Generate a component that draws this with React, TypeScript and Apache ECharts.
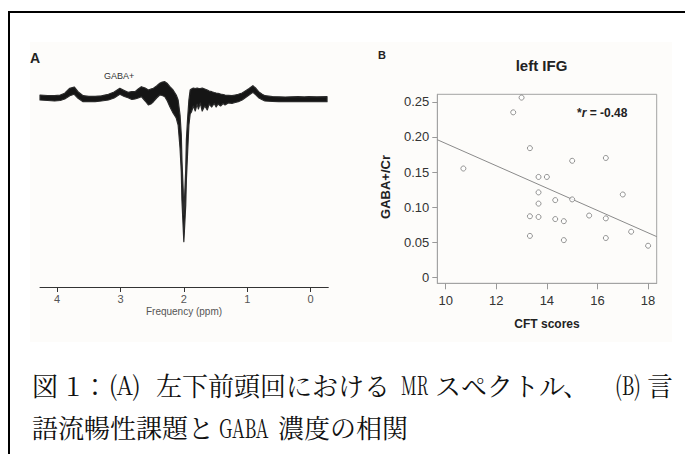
import React, { useEffect, useRef } from "react";
import * as echarts from "echarts";

// ---- Panel A: MR spectrum (band of overlaid spectra) ----
const ppm = [4.27, 4.15, 4.04, 3.95, 3.88, 3.8, 3.73, 3.67, 3.59, 3.5, 3.4, 3.3, 3.19, 3.1, 3.01, 2.94, 2.88, 2.82, 2.77, 2.72, 2.67, 2.61, 2.56, 2.52, 2.48, 2.43, 2.38, 2.34, 2.3, 2.26, 2.22, 2.17, 2.12, 2.09, 2.06, 2.04, 2.03, 2.01, 2.0, 1.99, 1.97, 1.96, 1.94, 1.92, 1.9, 1.88, 1.85, 1.82, 1.79, 1.77, 1.74, 1.71, 1.67, 1.63, 1.6, 1.56, 1.52, 1.49, 1.46, 1.42, 1.38, 1.35, 1.3, 1.24, 1.19, 1.14, 1.08, 1.03, 0.97, 0.91, 0.86, 0.82, 0.77, 0.72, 0.6, 0.5, 0.4, 0.3, 0.2, 0.1, 0.03, -0.1, -0.26];
const bandTop = [0.4, 0.35, 0.33, 0.4, 0.57, 1.07, 1.2, 0.73, 0.33, 0.27, 0.27, 0.32, 0.47, 0.7, 1.07, 0.85, 0.67, 0.75, 0.73, 1.0, 1.23, 1.1, 0.9, 1.0, 1.07, 1.3, 1.57, 1.7, 1.73, 1.55, 1.23, 0.9, 0.4, -0.1, -1.6, -3.6, -6.1, -9.1, -11.6, -10.1, -7.1, -4.1, -1.9, -0.1, 0.9, 1.0, 1.1, 1.05, 1.1, 1.07, 1.05, 1.1, 1.0, 0.9, 0.8, 0.73, 0.65, 0.6, 0.57, 0.5, 0.45, 0.4, 0.37, 0.33, 0.4, 0.47, 0.6, 0.8, 1.05, 1.33, 1.05, 0.73, 0.5, 0.33, 0.25, 0.22, 0.2, 0.22, 0.23, 0.21, 0.23, 0.22, 0.23];
const bandBottom = [-0.1, -0.15, -0.2, -0.15, 0.0, 0.33, 0.47, 0.07, -0.27, -0.25, -0.27, -0.2, -0.1, 0.1, 0.47, 0.25, 0.13, -0.05, 0.0, 0.1, 0.23, -0.2, -0.6, -0.5, -0.27, 0.1, 0.4, 0.35, 0.23, -0.2, -0.77, -1.4, -1.9, -2.6, -4.9, -7.3, -10.1, -12.9, -14.27, -13.1, -10.6, -8.1, -5.3, -2.6, -1.5, -1.3, -0.7, -1.2, -0.5, -1.0, -0.4, -1.2, -0.7, -1.1, -0.5, -0.8, -0.45, -0.8, -0.5, -0.7, -0.45, -0.6, -0.4, -0.43, -0.35, -0.27, -0.1, 0.13, 0.4, 0.67, 0.4, 0.13, -0.05, -0.2, -0.25, -0.27, -0.27, -0.25, -0.27, -0.26, -0.27, -0.26, -0.27];
const freqTicks = [0, 1, 2, 3, 4];

// ---- Panel B: scatter GABA+/Cr vs CFT scores ----
const cftScores = [10.7, 12.67, 13.0, 13.33, 13.67, 14.0, 13.67, 13.67, 13.33, 13.67, 13.33, 14.33, 14.33, 14.67, 14.67, 15.0, 15.0, 15.67, 16.33, 16.33, 16.33, 17.0, 17.33, 18.0];
const gabaCr = [0.155, 0.235, 0.256, 0.184, 0.143, 0.143, 0.121, 0.105, 0.087, 0.086, 0.059, 0.11, 0.083, 0.08, 0.053, 0.166, 0.111, 0.088, 0.17, 0.084, 0.056, 0.118, 0.065, 0.045];
const fitLine = [[9.67, 0.196], [18.34, 0.058]];
const cftTicks = [10, 12, 14, 16, 18];
const gabaTicks = [0, 0.05, 0.1, 0.15, 0.2, 0.25];

// caption, split in runs as typeset in the source (text, line index)
const captionRuns: [string, number][] = [
  ["図", 0], ["1", 0], ["：", 0], ["(A)", 0], ["左下前頭回における", 0], ["MR", 0], ["スペクトル、", 0], ["(B)", 0], ["言", 0],
  ["語流暢性課題と", 1], ["GABA", 1], ["濃度の相関", 1],
];
const captionRunX = [32, 66, 82, 109, 156, 401, 435, 615, 647, 32, 219, 278];
const captionRunScaleX = [1, 1, 1, 0.88, 1, 0.62, 1, 0.72, 1, 1, 0.68, 1];
const captionLineY = [384, 426];

const SANS = "'Liberation Sans', Arial, Helvetica, sans-serif";
const CJK = "'Noto Serif CJK JP', 'Noto Sans CJK JP', serif";

export default function App() {
  const ref = useRef<HTMLDivElement>(null);
  useEffect(() => {
    if (!ref.current) return;
    const chart = echarts.init(ref.current, null, { renderer: "svg" });
    const option: any = {
      animation: false,
      backgroundColor: "#ffffff",
      grid: [
        { left: 40, top: 59, width: 288.3, height: 228, show: false },
        { left: 437.3, top: 94.3, width: 219.4, height: 189, show: true, borderColor: "#a3a3a3", borderWidth: 1, backgroundColor: "transparent" },
      ],
      xAxis: [
        {
          type: "value", gridIndex: 0, min: -0.28, max: 4.27, inverse: true,
          axisLine: { show: true, onZero: false, lineStyle: { color: "#333", width: 1 } },
          axisTick: { show: true, customValues: freqTicks, length: 5, lineStyle: { color: "#333" } },
          axisLabel: { customValues: freqTicks, color: "#555", fontSize: 11, fontFamily: SANS, margin: 6 },
          splitLine: { show: false },
        },
        {
          type: "value", gridIndex: 1, min: 9.67, max: 18.34,
          axisLine: { show: true, onZero: false, lineStyle: { color: "#a3a3a3", width: 1 } },
          axisTick: { show: true, customValues: cftTicks, length: 6, lineStyle: { color: "#999" } },
          axisLabel: { customValues: cftTicks, color: "#333", fontSize: 13, fontFamily: SANS, margin: 11 },
          splitLine: { show: false },
        },
      ],
      yAxis: [
        { type: "value", gridIndex: 0, min: -18.8, max: 4, show: false },
        {
          type: "value", gridIndex: 1, min: -0.0085, max: 0.2607,
          axisLine: { show: true, onZero: false, lineStyle: { color: "#a3a3a3", width: 1 } },
          axisTick: { show: true, customValues: gabaTicks, length: 5, lineStyle: { color: "#999" } },
          axisLabel: {
            customValues: gabaTicks, color: "#333", fontSize: 13, fontFamily: SANS, margin: 8,
            formatter: (v: number) => (v === 0 ? "0" : v.toFixed(2)),
          },
          splitLine: { show: false },
        },
      ],
      series: [
        {
          type: "custom", xAxisIndex: 0, yAxisIndex: 0,
          data: ppm.map((p, i) => [p, bandTop[i], bandBottom[i]]),
          encode: { x: 0, y: [1, 2] },
          renderItem: (params: any, api: any) => {
            if (params.dataIndex !== 0) return null;
            const up = ppm.map((p, i) => api.coord([p, bandTop[i]]));
            const lo = ppm.map((p, i) => api.coord([p, bandBottom[i]])).reverse();
            return {
              type: "polygon",
              shape: { points: up.concat(lo) },
              style: { fill: "#151515", stroke: "#2a2a2a", lineWidth: 1.2, lineJoin: "round" },
            };
          },
        },
        {
          type: "line", xAxisIndex: 1, yAxisIndex: 1, data: fitLine,
          symbol: "none", lineStyle: { color: "#8a8a8a", width: 1 }, z: 2,
        },
        {
          type: "scatter", xAxisIndex: 1, yAxisIndex: 1,
          data: cftScores.map((c, i) => [c, gabaCr[i]]),
          symbol: "circle", symbolSize: 5,
          itemStyle: { color: "#ffffff", borderColor: "#6a6a6a", borderWidth: 0.9 }, z: 3,
        },
      ],
      graphic: [
        { type: "rect", z: -10, shape: { x: 30, y: 42, width: 642, height: 300 }, style: { fill: "#fdfcfa" } },
        { type: "rect", z: 10, shape: { x: 9, y: 12, width: 700, height: 460 }, style: { fill: "none", stroke: "#000", lineWidth: 2 } },
        { type: "text", x: 30, y: 58, style: { text: "A", fill: "#222", font: `bold 14px ${SANS}`, verticalAlign: "middle" } },
        { type: "text", x: 119, y: 76, style: { text: "GABA+", fill: "#333", font: `9px ${SANS}`, align: "center", verticalAlign: "middle" } },
        { type: "text", x: 184, y: 311, style: { text: "Frequency (ppm)", fill: "#555", font: `10px ${SANS}`, align: "center", verticalAlign: "middle" } },
        { type: "text", x: 378, y: 55, style: { text: "B", fill: "#222", font: `bold 11px ${SANS}`, verticalAlign: "middle" } },
        { type: "text", x: 541.5, y: 65, style: { text: "left IFG", fill: "#222", font: `bold 15px ${SANS}`, align: "center", verticalAlign: "middle" } },
        { type: "text", x: 385, y: 187, rotation: Math.PI / 2, style: { text: "GABA+/Cr", fill: "#222", font: `bold 13px ${SANS}`, align: "center", verticalAlign: "middle" } },
        { type: "text", x: 547, y: 324, style: { text: "CFT scores", fill: "#222", font: `bold 12px ${SANS}`, align: "center", verticalAlign: "middle" } },
        {
          type: "text", x: 577, y: 113,
          style: {
            text: "{a|*}{b|r}{a| = -0.48}", verticalAlign: "middle",
            rich: {
              a: { fill: "#222", fontWeight: "bold", fontSize: 12, fontFamily: SANS },
              b: { fill: "#222", fontWeight: "bold", fontStyle: "italic", fontSize: 12, fontFamily: SANS },
            },
          },
        },
        ...captionRuns.map(([t, line], i) => ({
          type: "text", x: captionRunX[i], y: captionLineY[line], scaleX: captionRunScaleX[i],
          style: { text: t, fill: "#111", font: `26px ${CJK}`, verticalAlign: "middle" },
        })),
      ],
    };
    chart.setOption(option);
    return () => chart.dispose();
  }, []);
  return (
    <div
      ref={ref}
      style={{ position: "absolute", left: 0, top: 0, width: 685, height: 454, background: "#fff" }}
    />
  );
}
